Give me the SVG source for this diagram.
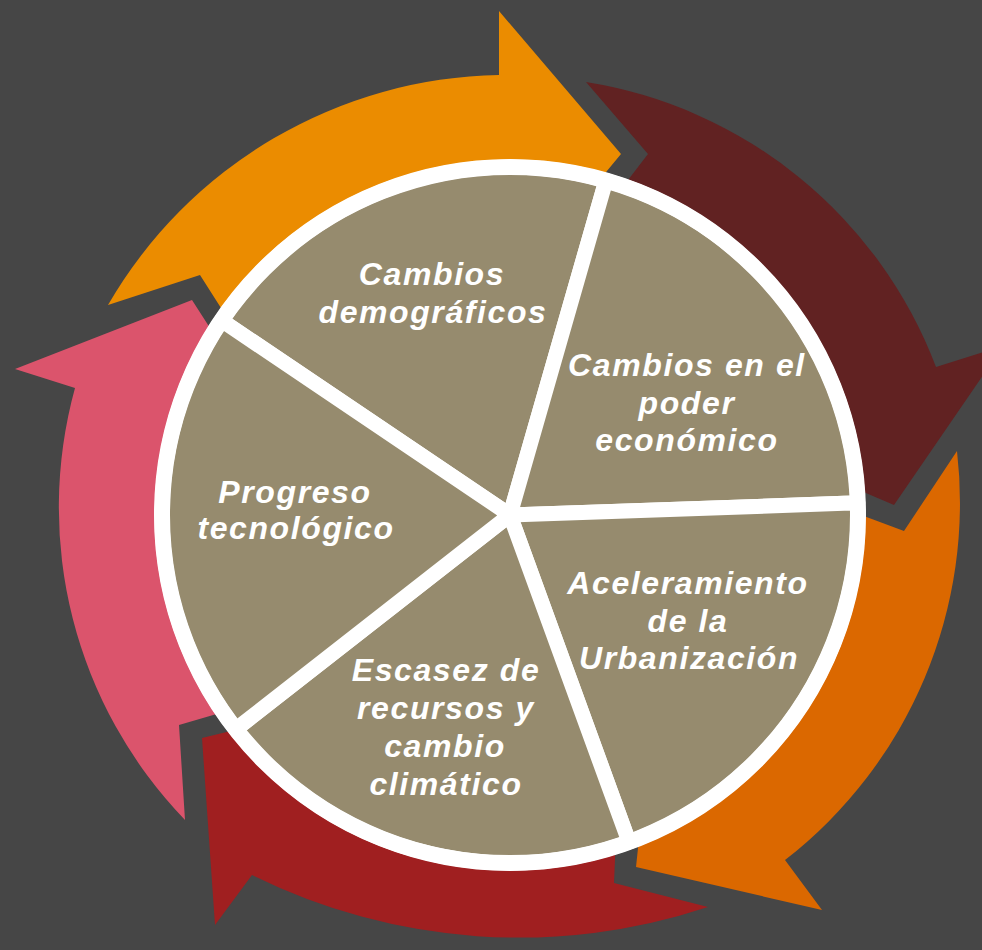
<svg xmlns="http://www.w3.org/2000/svg" width="982" height="950" viewBox="0 0 982 950">
  <style>
    .slice { fill: #968B6E; stroke: #FFFFFF; stroke-width: 15; stroke-linejoin: round; }
    .ring { fill: none; stroke: #FFFFFF; stroke-width: 16; }
    .lbl { font-family: "Liberation Sans", Arial, sans-serif; font-size: 32px; font-weight: bold; font-style: italic; fill: #FFFFFF; text-anchor: middle; letter-spacing: 1.6px; }
  </style>
  <rect x="0" y="0" width="982" height="950" fill="#464646"/>

  <g id="connectors">
    <path id="arrow-orange" fill="#EB8C00" d="M235 330 L200 275 L108 305 A461 461 0 0 1 499 75 L499 11 L621 154 L592 189 L510 515 Z"/>
    <path id="arrow-maroon" fill="#612222" d="M615 197 L648 154 L586 82 A450 450 0 0 1 936 367 L1003 346 L894 505 L840 482 L510 515 Z"/>
    <path id="arrow-darkorange" fill="#DB6800" d="M845 509 L904 531 L957 451 A452 452 0 0 1 785 860 L822 910 L636 867 L641 820 L510 515 Z"/>
    <path id="arrow-darkred" fill="#A01F20" d="M616 835 L614 883 L708 907 A600 600 0 0 1 252 875 L215 925 L202 738 L340 704 L510 515 Z"/>
    <path id="arrow-pink" fill="#DB546C" d="M340 678 L179 725 L185 820 A450 450 0 0 1 75 388 L15 369 L192 300 L246 384 L510 515 Z"/>
  </g>

  <g id="node-demograficos">
    <path class="slice" d="M510 515 L221.49 320.40 A348 348 0 0 1 605.92 180.48 Z"/>
    <text class="lbl" x="432" y="285">Cambios</text>
    <text class="lbl" x="433" y="323">demográficos</text>
  </g>
  <g id="node-poder-economico">
    <path class="slice" d="M510 515 L605.92 180.48 A348 348 0 0 1 857.79 502.86 Z"/>
    <text class="lbl" x="687" y="376">Cambios en el</text>
    <text class="lbl" x="687" y="414">poder</text>
    <text class="lbl" x="687" y="451">económico</text>
  </g>
  <g id="node-urbanizacion">
    <path class="slice" d="M510 515 L857.79 502.86 A348 348 0 0 1 629.02 842.01 Z"/>
    <text class="lbl" x="688" y="594">Aceleramiento</text>
    <text class="lbl" x="688" y="632">de la</text>
    <text class="lbl" x="689" y="669">Urbanización</text>
  </g>
  <g id="node-escasez">
    <path class="slice" d="M510 515 L629.02 842.01 A348 348 0 0 1 235.77 729.25 Z"/>
    <text class="lbl" x="446" y="681">Escasez de</text>
    <text class="lbl" x="446" y="719">recursos y</text>
    <text class="lbl" x="445" y="757">cambio</text>
    <text class="lbl" x="446" y="795">climático</text>
  </g>
  <g id="node-progreso">
    <path class="slice" d="M510 515 L235.77 729.25 A348 348 0 0 1 221.49 320.40 Z"/>
    <text class="lbl" x="295" y="503">Progreso</text>
    <text class="lbl" x="296" y="539">tecnológico</text>
  </g>

  <circle class="ring" cx="510" cy="515" r="348"/>
</svg>
